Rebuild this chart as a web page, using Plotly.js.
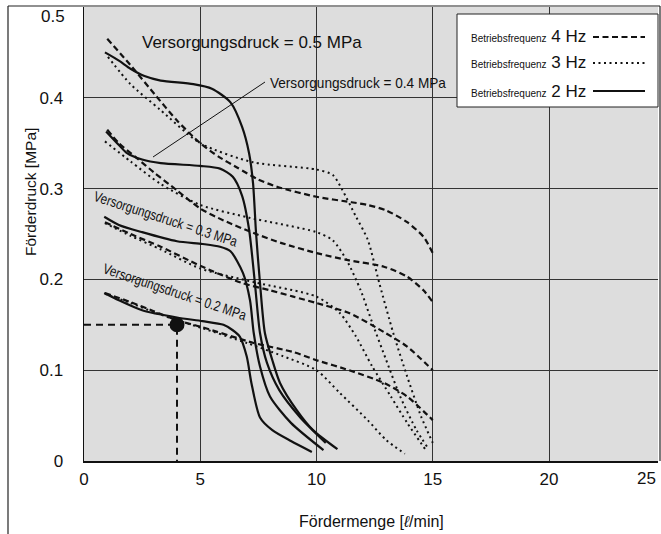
<!DOCTYPE html>
<html><head><meta charset="utf-8">
<script src="https://cdn.plot.ly/plotly-3.0.1.min.js"></script>
<style>html,body{margin:0;padding:0;background:#fff}#chart{width:661px;height:534px}</style>
</head><body><div id="chart"></div>
<script>
// ---- Betriebsfrequenz 2 Hz (solid) ----
const f2_p05_x = [0.9, 1.5, 2.0, 2.6, 3.3, 4.7, 5.5, 6.3, 6.8, 7.1, 7.27, 7.4, 7.57, 7.78, 8.1, 8.43, 9.15, 9.85, 10.9];
const f2_p05_y = [0.450, 0.441, 0.432, 0.424, 0.419, 0.415, 0.410, 0.395, 0.368, 0.339, 0.306, 0.251, 0.196, 0.141, 0.111, 0.086, 0.056, 0.034, 0.013];
const f2_p04_x = [0.95, 1.5, 1.85, 2.5, 3.3, 5.0, 5.85, 6.4, 6.8, 7.1, 7.35, 7.57, 7.87, 8.4, 9.3, 10.4];
const f2_p04_y = [0.363, 0.348, 0.339, 0.332, 0.328, 0.325, 0.322, 0.313, 0.292, 0.255, 0.196, 0.141, 0.108, 0.078, 0.048, 0.020];
const f2_p03_x = [0.87, 1.5, 2.5, 4.0, 5.1, 5.85, 6.3, 6.84, 7.14, 7.3, 7.57, 8.0, 8.9, 10.3];
const f2_p03_y = [0.269, 0.260, 0.252, 0.242, 0.239, 0.236, 0.231, 0.207, 0.177, 0.141, 0.104, 0.071, 0.042, 0.012];
const f2_p02_x = [0.87, 1.5, 2.5, 4.0, 5.1, 6.0, 6.4, 6.7, 7.0, 7.2, 7.57, 8.1, 8.9, 9.8];
const f2_p02_y = [0.185, 0.177, 0.166, 0.158, 0.154, 0.150, 0.144, 0.137, 0.115, 0.086, 0.048, 0.034, 0.022, 0.010];

// ---- Betriebsfrequenz 4 Hz (dashed) ----
const f4_p05_x = [1.0, 2.0, 3.1, 4.0, 5.0, 5.8, 6.6, 7.5, 8.3, 10.0, 11.5, 12.2, 13.0, 13.9, 14.6, 15.0];
const f4_p05_y = [0.465, 0.436, 0.402, 0.375, 0.350, 0.335, 0.323, 0.310, 0.302, 0.291, 0.285, 0.282, 0.276, 0.263, 0.247, 0.229];
const f4_p04_x = [1.0, 1.5, 2.3, 3.0, 4.0, 5.0, 6.0, 7.3, 8.5, 10.0, 11.4, 12.9, 13.9, 14.6, 15.0];
const f4_p04_y = [0.365, 0.350, 0.333, 0.318, 0.298, 0.278, 0.265, 0.251, 0.240, 0.229, 0.221, 0.214, 0.203, 0.188, 0.175];
const f4_p03_x = [0.9, 2.0, 3.3, 5.0, 6.8, 8.0, 9.0, 10.0, 11.4, 12.9, 13.9, 15.0];
const f4_p03_y = [0.263, 0.250, 0.236, 0.215, 0.196, 0.188, 0.181, 0.174, 0.163, 0.142, 0.126, 0.100];
const f4_p02_x = [0.9, 2.0, 3.0, 4.0, 5.0, 7.3, 9.0, 10.0, 11.4, 12.9, 13.9, 15.0];
const f4_p02_y = [0.185, 0.175, 0.165, 0.155, 0.148, 0.130, 0.120, 0.111, 0.100, 0.086, 0.071, 0.045];

// ---- Betriebsfrequenz 3 Hz (dotted) ----
const f3_p05_x = [1.03, 2.0, 3.27, 5.0, 7.27, 10.0, 10.7, 11.1, 11.7, 12.2, 12.7, 13.3, 13.9, 14.5, 15.0];
const f3_p05_y = [0.445, 0.415, 0.387, 0.350, 0.329, 0.321, 0.315, 0.299, 0.269, 0.244, 0.196, 0.141, 0.093, 0.049, 0.020];
const f3_p04_x = [0.9, 2.0, 3.3, 5.0, 7.1, 10.0, 10.7, 11.3, 11.9, 12.4, 13.0, 13.6, 14.3, 14.75];
const f3_p04_y = [0.352, 0.330, 0.305, 0.282, 0.268, 0.252, 0.243, 0.221, 0.188, 0.152, 0.111, 0.071, 0.034, 0.016];
const f3_p03_x = [0.9, 2.0, 3.3, 5.0, 7.3, 10.0, 11.0, 11.7, 12.4, 13.2, 13.9, 14.7];
const f3_p03_y = [0.262, 0.248, 0.233, 0.212, 0.197, 0.181, 0.163, 0.137, 0.104, 0.071, 0.042, 0.012];
const f3_p02_x = [0.9, 2.0, 3.0, 4.0, 5.0, 7.0, 8.5, 10.0, 11.0, 12.2, 13.0, 13.8];
const f3_p02_y = [0.184, 0.174, 0.164, 0.155, 0.147, 0.130, 0.116, 0.100, 0.075, 0.045, 0.023, 0.008];

// ---- Example operating point ----
const opX = [4];
const opY = [0.15];
const refX = [0, 4, 4];
const refY = [0.15, 0.15, 0];

// ---- Axes / labels ----
const xTickVals = [0, 5, 10, 15, 20];
const yTickVals = [0, 0.1, 0.2, 0.3, 0.4];
const yTickText = ['0', '0.1', '0.2', '0.3', '0.4'];
const legendLabels = ['4 Hz', '3 Hz', '2 Hz'];

const INK = '#111';
const SOLID = {color: INK, width: 2.2, dash: 'solid', shape: 'spline', smoothing: 0.7};
const DASH = {color: INK, width: 2.2, dash: '6px,3.5px', shape: 'spline', smoothing: 0.7};
const DOT = {color: INK, width: 2, dash: '2px,3.5px', shape: 'spline', smoothing: 0.7};

function tr(x, y, line) { return {x, y, type: 'scatter', mode: 'lines', line, hoverinfo: 'skip', showlegend: false}; }

const traces = [
  tr(f3_p05_x, f3_p05_y, DOT), tr(f3_p04_x, f3_p04_y, DOT), tr(f3_p03_x, f3_p03_y, DOT), tr(f3_p02_x, f3_p02_y, DOT),
  tr(f4_p05_x, f4_p05_y, DASH), tr(f4_p04_x, f4_p04_y, DASH), tr(f4_p03_x, f4_p03_y, DASH), tr(f4_p02_x, f4_p02_y, DASH),
  tr(f2_p05_x, f2_p05_y, SOLID), tr(f2_p04_x, f2_p04_y, SOLID), tr(f2_p03_x, f2_p03_y, SOLID), tr(f2_p02_x, f2_p02_y, SOLID),
  {x: refX, y: refY, type: 'scatter', mode: 'lines', line: {color: INK, width: 2, dash: '7px,5px'}, showlegend: false, hoverinfo: 'skip'},
  {x: opX, y: opY, type: 'scatter', mode: 'markers', marker: {color: INK, size: 15}, showlegend: false, hoverinfo: 'skip'}
];

// pixel helpers for layout decoration (paper coords)
const L = 84, R = 658, T = 7, B = 461;
const px = v => (v - L) / (R - L);
const py = v => (B - v) / (B - T);

const FONT = 'Liberation Sans, Arial, sans-serif';

const legendRowsY = [37, 63, 91];
const legendDash = ['6px,3.5px', '2px,3.5px', 'solid'];

const shapes = [
  {type: 'line', xref: 'paper', yref: 'paper', x0: px(8), x1: px(8), y0: py(6), y1: py(540), line: {color: '#222', width: 1.2}, layer: 'above'},
  {type: 'line', xref: 'paper', yref: 'paper', x0: px(8), x1: px(660), y0: py(6), y1: py(6), line: {color: '#222', width: 1.2}, layer: 'above'},
  {type: 'line', xref: 'paper', yref: 'paper', x0: px(660), x1: px(660), y0: py(6), y1: py(461), line: {color: '#222', width: 1.2}, layer: 'above'},
  {type: 'rect', xref: 'paper', yref: 'paper', x0: px(457), x1: px(658), y0: py(107), y1: py(14), fillcolor: '#fff', line: {color: '#222', width: 1}, layer: 'above'},
  {type: 'line', xref: 'x', yref: 'y', x0: (265 - L) / 23.25, y0: (B - 82) / 908, x1: (153 - L) / 23.25, y1: (B - 157) / 908, line: {color: INK, width: 1}, layer: 'above'}
];
legendRowsY.forEach((yy, i) => {
  shapes.push({type: 'line', xref: 'paper', yref: 'paper', x0: px(593), x1: px(645), y0: py(yy), y1: py(yy),
    line: {color: INK, width: 2.2, dash: legendDash[i]}, layer: 'above'});
});

// condensed texts in the original: target lengths in px
const narrowLen = {
  'Versorgungsdruck = 0.4 MPa': 176,
  'Versorgungsdruck = 0.3 MPa': 150,
  'Versorgungsdruck = 0.2 MPa': 150
};

const annotations = [
  {xref: 'paper', yref: 'paper', x: px(140), y: py(43), xanchor: 'left', yanchor: 'middle', showarrow: false,
   text: 'Versorgungsdruck = 0.5 MPa', font: {family: FONT, size: 17, color: INK}},
  {xref: 'paper', yref: 'paper', x: px(358), y: py(83), xanchor: 'center', yanchor: 'middle', showarrow: false,
   text: 'Versorgungsdruck = 0.4 MPa', font: {family: FONT, size: 15, color: INK}},
  {xref: 'paper', yref: 'paper', x: px(166), y: py(219), xanchor: 'center', yanchor: 'middle', showarrow: false, textangle: 18,
   text: 'Versorgungsdruck = 0.3 MPa', font: {family: FONT, size: 14.5, color: INK}},
  {xref: 'paper', yref: 'paper', x: px(175), y: py(292), xanchor: 'center', yanchor: 'middle', showarrow: false, textangle: 18.5,
   text: 'Versorgungsdruck = 0.2 MPa', font: {family: FONT, size: 14.5, color: INK}},
  {xref: 'paper', yref: 'paper', x: px(371), y: py(521), xanchor: 'center', yanchor: 'middle', showarrow: false,
   text: 'Fördermenge [<i>ℓ</i>/min]', font: {family: FONT, size: 16, color: INK}},
  {xref: 'paper', yref: 'paper', x: px(31), y: py(192), xanchor: 'center', yanchor: 'middle', showarrow: false, textangle: -90,
   text: 'Förderdruck [MPa]', font: {family: FONT, size: 15.5, color: INK}},
  {xref: 'paper', yref: 'paper', x: px(646), y: py(478), xanchor: 'center', yanchor: 'middle', showarrow: false,
   text: '25', font: {family: FONT, size: 17, color: INK}},
  {xref: 'paper', yref: 'paper', x: px(67), y: py(17), xanchor: 'right', yanchor: 'middle', showarrow: false,
   text: '0.5', font: {family: FONT, size: 17, color: INK}}
];
legendRowsY.forEach((yy, i) => {
  annotations.push({xref: 'paper', yref: 'paper', x: px(469), y: py(yy), xanchor: 'left', yanchor: 'middle', align: 'left', showarrow: false,
    text: '<span style="font-size:10px">Betriebsfrequenz</span> ' + legendLabels[i], font: {family: FONT, size: 17, color: INK}});
});

const layout = {
  width: 661, height: 534,
  margin: {l: L, r: 661 - R, t: T, b: 534 - B, pad: 0},
  paper_bgcolor: '#fff', plot_bgcolor: '#dddddd',
  font: {family: FONT, size: 17, color: INK},
  showlegend: false,
  xaxis: {range: [0, (R - L) / 23.25], tickvals: xTickVals, ticks: 'outside', ticklen: 2, tickcolor: 'rgba(0,0,0,0)',
          showgrid: true, gridcolor: '#333', gridwidth: 1, zeroline: false, showline: true, linecolor: INK, linewidth: 1.5,
          tickfont: {family: FONT, size: 17, color: INK}, fixedrange: true},
  yaxis: {range: [0, 0.5], tickvals: yTickVals, ticktext: yTickText, ticks: 'outside', ticklen: 16, tickcolor: 'rgba(0,0,0,0)',
          showgrid: true, gridcolor: '#333', gridwidth: 1, zeroline: false, showline: true, linecolor: INK, linewidth: 1.5,
          tickfont: {family: FONT, size: 17, color: INK}, fixedrange: true},
  shapes, annotations
};

Plotly.newPlot('chart', traces, layout, {displayModeBar: false, staticPlot: true}).then(() => {
  // condense the labels that use a condensed face in the original
  document.querySelectorAll('#chart .annotation-text').forEach(t => {
    const len = narrowLen[t.textContent];
    if (len) {
      t.setAttribute('textLength', len);
      t.setAttribute('lengthAdjust', 'spacingAndGlyphs');
    }
  });
});
</script></body></html>
